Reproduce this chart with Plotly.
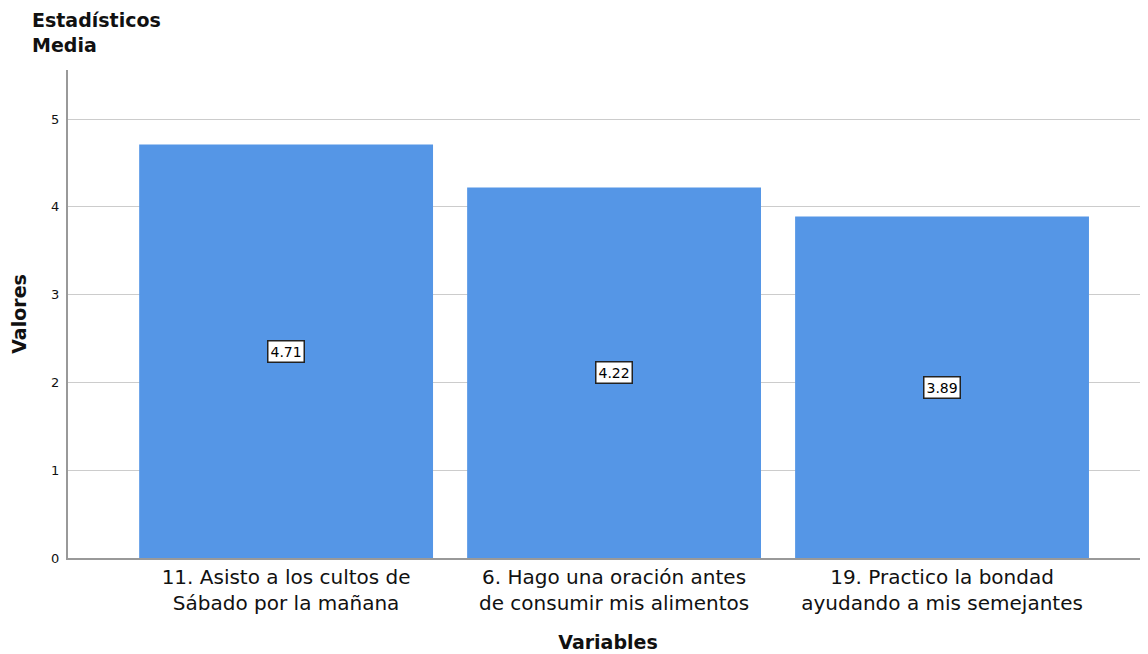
import plotly.graph_objects as go

categories = ["11. Asisto a los cultos de<br>Sábado por la mañana",
              "6. Hago una oración antes<br>de consumir mis alimentos",
              "19. Practico la bondad<br>ayudando a mis semejantes"]
values = [4.71, 4.22, 3.89]
labels = ["4.71", "4.22", "3.89"]
yticks = [0, 1, 2, 3, 4, 5]

# page body has an 8px margin; compensate so the figure fills the 1148x654 view
OFF = 8
W, H = 1148 - OFF, 654 - OFF
L, R, T, B = 68 - OFF, 0, 70 - OFF, 96

fig = go.Figure()
fig.add_trace(go.Bar(x=list(range(len(categories))), y=values,
                     marker=dict(color="#5596E6", line=dict(width=0)),
                     width=0.896, hoverinfo="skip"))

for i, (v, lab) in enumerate(zip(values, labels)):
    fig.add_annotation(x=i, y=v / 2, xref="x", yref="y", text=lab, showarrow=False,
                       font=dict(family="DejaVu Sans", size=14, color="#000"),
                       bgcolor="white", bordercolor="#222", borderwidth=1.5, borderpad=2)

pw = W - L - R
fig.add_annotation(x=(30 - 68) / pw, y=1, xref="paper", yref="paper",
                   xanchor="left", yanchor="bottom", yshift=12, align="left",
                   text="<b>Estadísticos<br>Media</b>", showarrow=False,
                   font=dict(family="DejaVu Sans", size=19, color="#111"))

fig.update_layout(
    width=W, height=H, margin=dict(l=L, r=R, t=T, b=B, autoexpand=False),
    paper_bgcolor="white", plot_bgcolor="white", showlegend=False,
    xaxis=dict(range=[-0.665, 2.628], tickmode="array", tickvals=list(range(len(categories))),
               ticktext=categories, showgrid=False, zeroline=False, showline=True,
               linecolor="#999", linewidth=2, ticks="", automargin=False,
               tickfont=dict(family="DejaVu Sans", size=20, color="#111"),
               title=dict(text="<b>Variables</b>", standoff=22,
                          font=dict(family="DejaVu Sans", size=19, color="#111"))),
    yaxis=dict(range=[0, 5.56], tickmode="array", tickvals=yticks, showgrid=True,
               gridcolor="#CCCCCC", gridwidth=1, zeroline=False, showline=True,
               linecolor="#999", linewidth=2, ticks="", ticklabelstandoff=4, automargin=False,
               tickfont=dict(family="DejaVu Sans", size=13, color="#111"),
               title=dict(text="<b>Valores</b>", standoff=19,
                          font=dict(family="DejaVu Sans", size=19, color="#111"))),
)

fig.write_html("out.html")
